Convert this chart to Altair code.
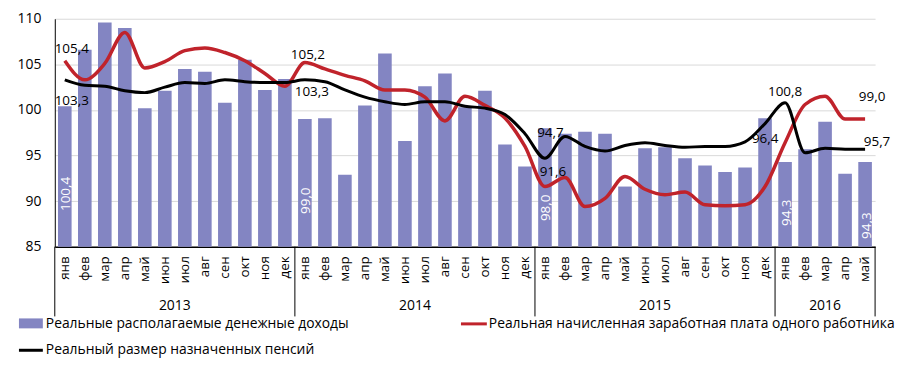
import altair as alt
import pandas as pd

# ---------------- data ----------------
months = ['янв', 'фев', 'мар', 'апр', 'май', 'июн', 'июл', 'авг', 'сен', 'окт', 'ноя', 'дек']
years = [2013, 2014, 2015, 2016]
months_per_year = [12, 12, 12, 5]

income = [100.4, 106.6, 109.6, 109.0, 100.2, 102.1, 104.5, 104.2, 100.8, 105.5, 102.2, 103.4,
          99.0, 99.1, 92.9, 100.5, 106.2, 96.6, 102.6, 104.0, 100.3, 102.1, 96.2, 93.8,
          98.0, 97.4, 97.6, 97.4, 91.6, 95.8, 95.9, 94.7, 93.9, 93.2, 93.7, 99.1,
          94.3, 95.7, 98.7, 93.0, 94.3]
wages = [105.4, 103.3, 105.1, 108.5, 104.6, 105.3, 106.5, 106.8, 106.3, 105.4, 104.0, 102.6,
         105.2, 104.5, 103.8, 103.2, 102.2, 102.2, 101.4, 98.8, 101.5, 100.5, 99.1, 96.0,
         91.6, 92.6, 89.4, 90.3, 92.7, 91.3, 90.7, 91.0, 89.6, 89.5, 89.6, 91.6,
         96.4, 100.6, 101.5, 99.0, 99.0]
pensions = [103.3, 102.7, 102.6, 102.1, 101.9, 102.5, 103.0, 102.9, 103.3, 103.1, 103.0, 103.0,
            103.3, 103.1, 102.2, 101.4, 100.9, 100.6, 100.9, 100.9, 100.4, 100.2, 99.5, 97.4,
            94.7, 97.1, 96.0, 95.5, 96.1, 96.4, 96.1, 95.9, 96.0, 96.0, 96.5, 98.5,
            100.8, 95.3, 95.8, 95.7, 95.7]

legend_labels = ['Реальные располагаемые денежные доходы',
                 'Реальная начисленная заработная плата одного работника',
                 'Реальный размер назначенных пенсий']

# annotated points: (series, index)
annotated = [('wage', 0), ('pen', 0), ('inc', 0),
             ('wage', 12), ('pen', 12), ('inc', 12),
             ('pen', 24), ('wage', 24), ('inc', 24),
             ('wage', 36), ('pen', 36), ('inc', 36),
             ('wage', 40), ('pen', 40), ('inc', 40)]

# ---------------- styles ----------------
BAR = '#8385C2'
RED = '#C0232B'
BLACK = '#000000'
FONT = 'Open Sans'
FS = 13.5
LFS = 13.9

# label offsets (dx, dy) for annotations, same order as `annotated`
label_offsets = [(7, -12), (7, 21), (-88, 1.5),
                 (3, -8), (7, 12), (-82, 1.5),
                 (5.5, -25.5), (8, -14.5), (-80, 1.5),
                 (-20, -4), (0, -11), (-51, 1.5),
                 (7, -22), (12, -7), (-64, 1.5)]

# ---------------- tables ----------------
rows = []
for key, vals in [('inc', income), ('wage', wages), ('pen', pensions)]:
    for i, v in enumerate(vals):
        rows.append({'i': i, 'v': v, 's': key})
df = pd.DataFrame(rows)

starts, ends = [], []
acc = 0
for c in months_per_year:
    starts.append(acc)
    acc += c
    ends.append(acc)
years_df = pd.DataFrame({'year': [str(y) for y in years], 'start': starts, 'end': ends})
years_df['mid'] = (years_df['start'] + years_df['end']) / 2
seps_df = pd.DataFrame({'pos': [0] + ends})

month_js = '[' + ','.join("'%s'" % m for m in months) + ']'

xenc = alt.X('i:O',
             scale=alt.Scale(paddingInner=0.32, paddingOuter=0.16),
             axis=alt.Axis(title=None, labelExpr=month_js + '[datum.value % 12]',
                           labelAngle=270, labelAlign='right', labelBaseline='middle',
                           ticks=False, labelPadding=9, domainColor=BLACK, domainWidth=1.5,
                           labelFontSize=FS, labelColor=BLACK, labelFont=FONT, grid=False))
yenc = alt.Y('v:Q',
             scale=alt.Scale(domain=[85, 110], nice=False, zero=False),
             axis=alt.Axis(title=None, values=[85, 90, 95, 100, 105, 110], ticks=False,
                           labelPadding=14, domainColor=BLACK, domainWidth=1,
                           gridColor='#D9D9D9', gridWidth=1, labelFontSize=14,
                           labelColor=BLACK, labelFont=FONT))

base = alt.Chart(df)

bars = base.transform_filter("datum.s == 'inc'").mark_bar(color=BAR).encode(
    x=xenc, y=yenc, y2=alt.datum(85))
red = base.transform_filter("datum.s == 'wage'").mark_line(
    color=RED, strokeWidth=3.5, interpolate='monotone').encode(x='i:O', y='v:Q')
blk = base.transform_filter("datum.s == 'pen'").mark_line(
    color=BLACK, strokeWidth=3, interpolate='monotone').encode(x='i:O', y='v:Q')

labels = []
for (s, i), (dx, dy) in zip(annotated, label_offsets):
    rotated = s == 'inc'
    mk = dict(font=FONT, fontSize=FS, dx=dx, dy=dy, align='center', baseline='middle',
              color='white' if rotated else BLACK)
    if rotated:
        mk['angle'] = 270
    labels.append(
        base.transform_filter(f"datum.s == '{s}' && datum.i == {i}")
        .transform_calculate(t="replace(format(datum.v, '.1f'), '.', ',')")
        .mark_text(**mk)
        .encode(x='i:O', y='v:Q', text='t:N'))

inner = alt.layer(bars, red, blk, *labels)

yscale = alt.Scale(domain=[0, sum(months_per_year)], nice=False, zero=False)
seps = alt.Chart(seps_df).mark_rule(color=BLACK, strokeWidth=1).encode(
    x=alt.X('pos:Q', scale=yscale, axis=None), y=alt.value(229), y2=alt.value(299))
yr_text = alt.Chart(years_df).mark_text(font=FONT, fontSize=14, baseline='middle', color=BLACK).encode(
    x=alt.X('mid:Q', scale=yscale, axis=None), y=alt.value(289), text='year:N')

one = pd.DataFrame({'a': [0]})
leg_bar = alt.Chart(one).mark_rect(color=BAR).encode(
    x=alt.value(-36), x2=alt.value(-12), y=alt.value(301), y2=alt.value(311))
leg_red = alt.Chart(one).mark_rule(color=RED, strokeWidth=3).encode(
    x=alt.value(408), x2=alt.value(434), y=alt.value(306.5))
leg_blk = alt.Chart(one).mark_rule(color=BLACK, strokeWidth=3).encode(
    x=alt.value(-36), x2=alt.value(-12), y=alt.value(333))
leg_t1 = alt.Chart(one).mark_text(font=FONT, fontSize=LFS, align='left', baseline='middle', color=BLACK,
                                  text=legend_labels[0]).encode(x=alt.value(-9), y=alt.value(307))
leg_t2 = alt.Chart(one).mark_text(font=FONT, fontSize=LFS, align='left', baseline='middle', color=BLACK,
                                  text=legend_labels[1]).encode(x=alt.value(436), y=alt.value(307))
leg_t3 = alt.Chart(one).mark_text(font=FONT, fontSize=LFS, align='left', baseline='middle', color=BLACK,
                                  text=legend_labels[2]).encode(x=alt.value(-9), y=alt.value(333))

chart = alt.layer(inner, seps, yr_text, leg_bar, leg_red, leg_blk, leg_t1, leg_t2, leg_t3).resolve_scale(
    x='independent'
).properties(
    width=824, height=229,
    autosize=alt.AutoSizeParams(type='none'),
    padding={'left': 47, 'top': 10, 'right': 20, 'bottom': 120}
).configure_view(stroke=None)

chart.save("out.html", embed_options={"renderer": "svg", "actions": False})
